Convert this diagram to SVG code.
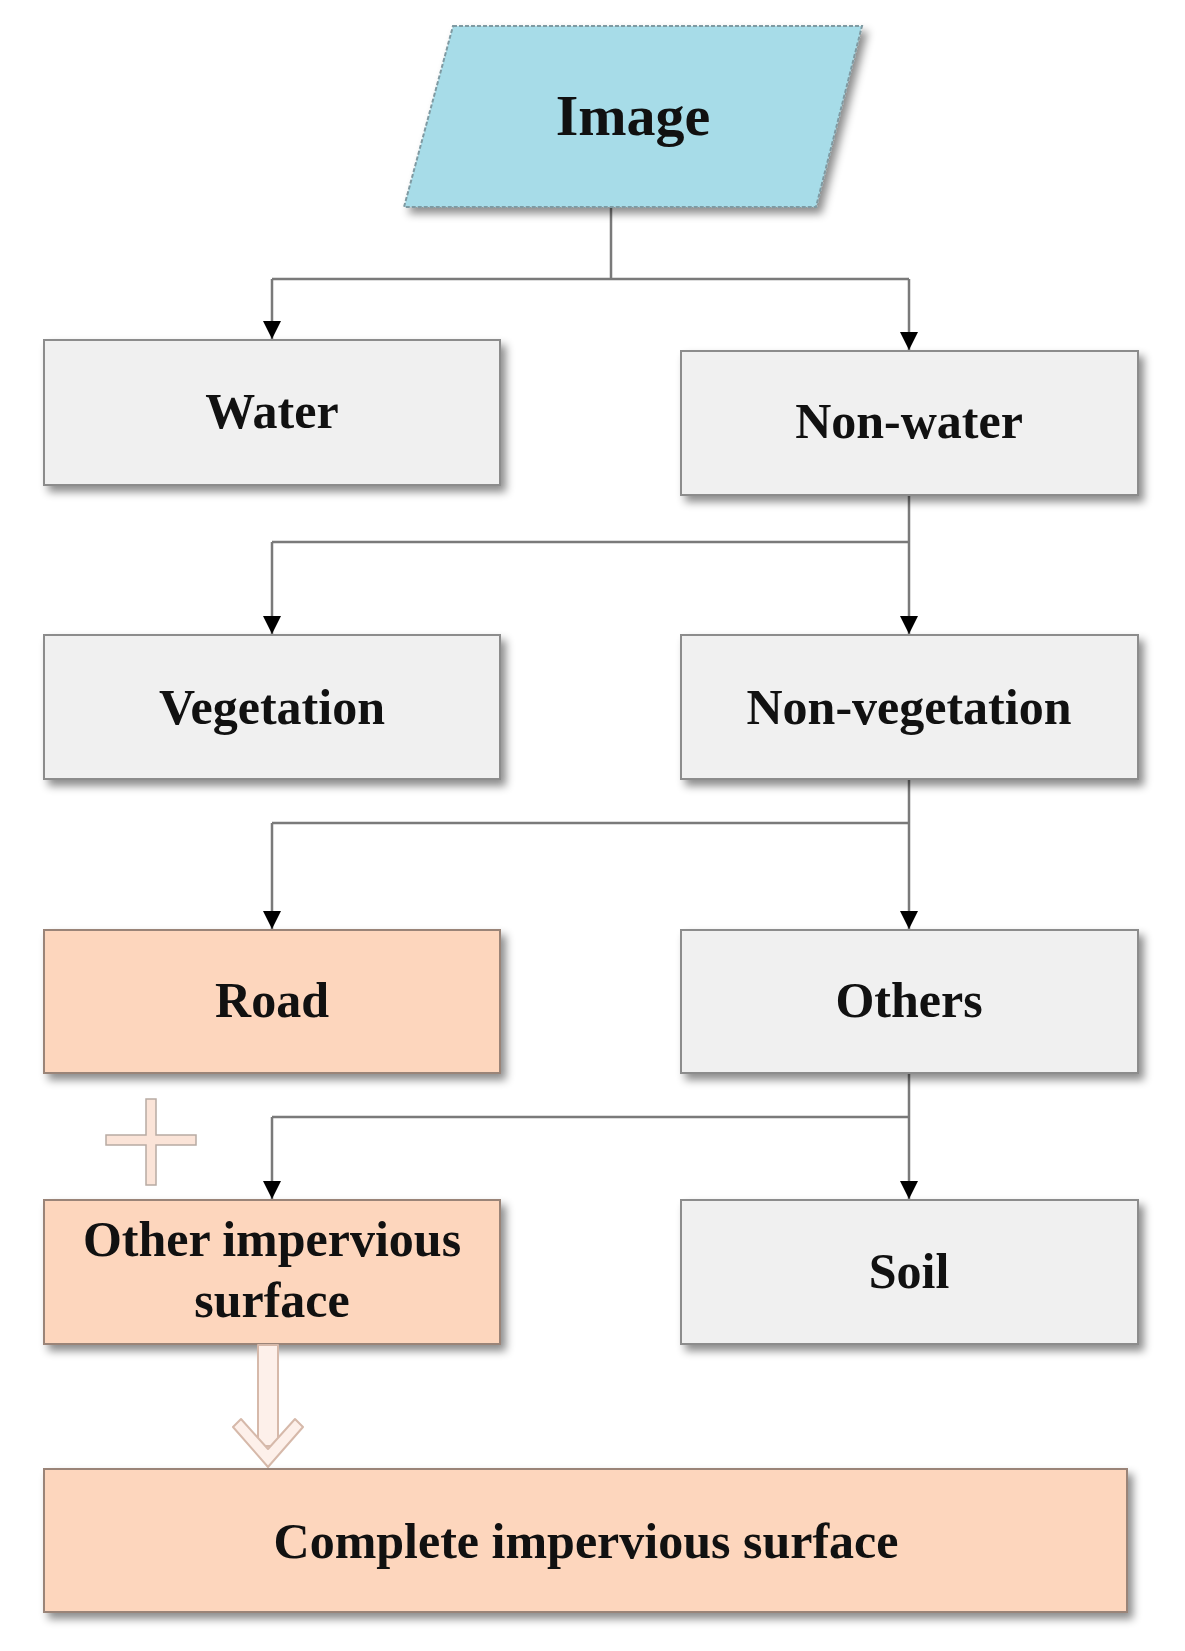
<svg xmlns="http://www.w3.org/2000/svg" width="1185" height="1651" viewBox="0 0 1185 1651">
<style>
.lbl{font-family:"Liberation Serif","Times New Roman",serif;font-weight:bold;font-size:50px;fill:#111;text-anchor:middle}
.gray{fill:#f0f0f0;stroke:#8c8c8c;stroke-width:2}
.sal{fill:#fdd6bd;stroke:#9a8478;stroke-width:2}
.conn{fill:none;stroke:#7a7a7a;stroke-width:2.5}
.hollow{fill:#fdf0ea;stroke:#d6b9aa;stroke-width:2;stroke-linejoin:round}
</style>
<defs>
<filter id="sh" x="-10%" y="-10%" width="125%" height="135%">
<feDropShadow dx="5" dy="6" stdDeviation="4" flood-color="#000" flood-opacity="0.45"/>
</filter>
<marker id="ah" viewBox="0 0 10 10" refX="10" refY="5" markerWidth="20" markerHeight="18" markerUnits="userSpaceOnUse" orient="auto">
<path d="M0,0 L10,5 L0,10 z" fill="#000"/>
</marker>
</defs>
<rect width="1185" height="1651" fill="#fff"/>

<g id="connectors">
<path class="conn" d="M611,207 V279 M272,279 H909"/>
<path class="conn" d="M272,279 V339" marker-end="url(#ah)"/>
<path class="conn" d="M909,279 V350" marker-end="url(#ah)"/>
<path class="conn" d="M909,495 V542 M272,542 H909"/>
<path class="conn" d="M909,542 V634" marker-end="url(#ah)"/>
<path class="conn" d="M272,542 V634" marker-end="url(#ah)"/>
<path class="conn" d="M909,779 V823 M272,823 H909"/>
<path class="conn" d="M909,823 V929" marker-end="url(#ah)"/>
<path class="conn" d="M272,823 V929" marker-end="url(#ah)"/>
<path class="conn" d="M909,1073 V1117 M272,1117 H909"/>
<path class="conn" d="M909,1117 V1199" marker-end="url(#ah)"/>
<path class="conn" d="M272,1117 V1199" marker-end="url(#ah)"/>
</g>

<g id="image">
<polygon points="453,26 862,26 816,207 404,207" fill="#a7dce8" stroke="#7f9aa2" stroke-width="2" stroke-dasharray="4 2" filter="url(#sh)"/>
<text class="lbl" x="633" y="135" style="font-size:58px">Image</text>
</g>

<g id="water">
<rect class="gray" x="44" y="340" width="456" height="145" filter="url(#sh)"/>
<text class="lbl" x="272" y="428">Water</text>
</g>

<g id="nonwater">
<rect class="gray" x="681" y="351" width="457" height="144" filter="url(#sh)"/>
<text class="lbl" x="909" y="438">Non-water</text>
</g>

<g id="vegetation">
<rect class="gray" x="44" y="635" width="456" height="144" filter="url(#sh)"/>
<text class="lbl" x="272" y="724">Vegetation</text>
</g>

<g id="nonvegetation">
<rect class="gray" x="681" y="635" width="457" height="144" filter="url(#sh)"/>
<text class="lbl" x="909" y="724">Non-vegetation</text>
</g>

<g id="road">
<rect class="sal" x="44" y="930" width="456" height="143" filter="url(#sh)"/>
<text class="lbl" x="272" y="1017">Road</text>
</g>

<g id="others">
<rect class="gray" x="681" y="930" width="457" height="143" filter="url(#sh)"/>
<text class="lbl" x="909" y="1017">Others</text>
</g>

<g id="plus">
<path d="M146,1099 H156 V1135 H196 V1145 H156 V1185 H146 V1145 H106 V1135 H146 Z" fill="#fbe4d8" stroke="#b8aaa3" stroke-width="1.5"/>
</g>

<g id="otherimpervious">
<rect class="sal" x="44" y="1200" width="456" height="144" filter="url(#sh)"/>
<text class="lbl" x="272" y="1256">Other impervious</text>
<text class="lbl" x="272" y="1317">surface</text>
</g>

<g id="soil">
<rect class="gray" x="681" y="1200" width="457" height="144" filter="url(#sh)"/>
<text class="lbl" x="909" y="1288">Soil</text>
</g>

<g id="hollowarrow">
<rect class="hollow" x="258" y="1345" width="20" height="101"/>
<path class="hollow" d="M233,1427 L241,1419 L268,1449 L295,1419 L303,1427 L268,1467 Z"/>
</g>

<g id="complete">
<rect class="sal" x="44" y="1469" width="1083" height="143" filter="url(#sh)"/>
<text class="lbl" x="586" y="1558">Complete impervious surface</text>
</g>
</svg>
